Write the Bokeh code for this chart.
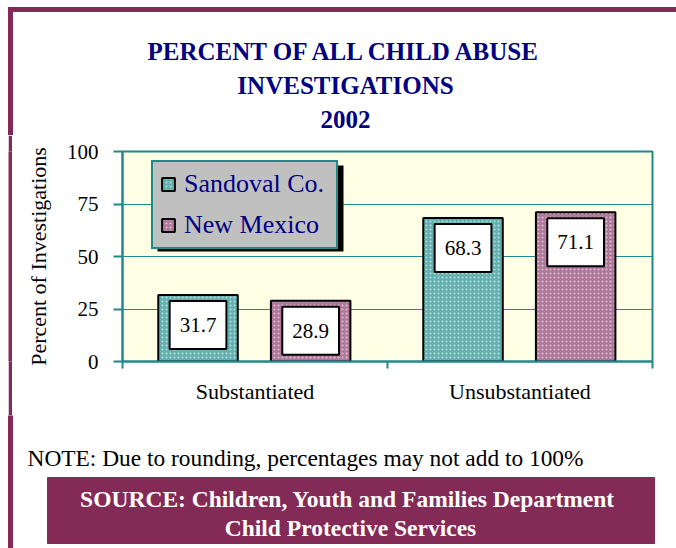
from bokeh.plotting import figure
from bokeh.layouts import column, row
from bokeh.models import (Range1d, FixedTicker, Legend, LegendItem, Label, BoxAnnotation,
                          ColumnDataSource, Spacer)
from bokeh.transform import dodge
from bokeh.embed import file_html
from bokeh.resources import INLINE

# ---- data ----
categories = ["Substantiated", "Unsubstantiated"]
sandoval = [31.7, 68.3]
new_mexico = [28.9, 71.1]
series_names = ["Sandoval Co.", "New Mexico"]
y_ticks = [0, 25, 50, 75, 100]
title_lines = ["PERCENT OF ALL CHILD ABUSE", "INVESTIGATIONS", "2002"]
note_text = "NOTE: Due to rounding, percentages may not add to 100%"
source_lines = ["SOURCE:  Children, Youth and Families Department", "Child Protective Services"]

# ---- styles ----
SERIF = "Liberation Serif"
TEAL = "#1F8A8A"
MAROON = "#842A56"
NAVY = "#000080"
FILLS = ["#62B1B1", "#B0779A"]
OFFSETS = [-0.215, 0.21]
BAR_W = 0.30

W = 676
HEAD_H, MAIN_H, FOOT_H = 135, 280, 133
GAP_W, STRIP_W = 8, 4


def blank(w, h, fill="white"):
    """A figure whose frame fills the whole canvas, in pixel-like coordinates (y down)."""
    f = figure(width=w, height=h, x_range=Range1d(0, w), y_range=Range1d(h, 0),
               min_border=0, min_border_left=0, min_border_right=0,
               min_border_top=0, min_border_bottom=0,
               toolbar_location=None, output_backend="svg",
               x_axis_location=None, y_axis_location=None)
    f.outline_line_color = None
    f.grid.visible = False
    f.background_fill_color = fill
    f.border_fill_color = fill
    return f


# ---- header ----
head = blank(W, HEAD_H)
head.quad(left=8, right=W, top=7, bottom=11, color=MAROON)
head.quad(left=8, right=12, top=7, bottom=HEAD_H, color=MAROON)
for k, t in enumerate(title_lines):
    head.add_layout(Label(x=345, y=51 + 34 * k, text=t, text_align="center",
                          text_baseline="alphabetic", text_font=SERIF, text_font_size="25px",
                          text_font_style="bold", text_color=NAVY))

# ---- left border strip next to the chart ----
strip = blank(STRIP_W, MAIN_H, fill=MAROON)

# ---- main chart ----
n = len(categories)
centers = [i + 0.5 for i in range(n)]
src = ColumnDataSource(dict(xc=centers, s0=sandoval, s1=new_mexico))

p = figure(x_range=Range1d(0, n), y_range=Range1d(0, 100),
           width=W - GAP_W - STRIP_W, height=MAIN_H, output_backend="svg", toolbar_location=None,
           min_border_left=110, min_border_right=24, min_border_top=16, min_border_bottom=54)
p.background_fill_color = "#FFFFE6"
p.border_fill_color = "white"
p.outline_line_color = TEAL
p.outline_line_width = 2

ya = p.yaxis[0]
ya.ticker = FixedTicker(ticks=y_ticks)
ya.axis_line_color = TEAL
ya.axis_line_width = 2
ya.major_tick_line_color = TEAL
ya.major_tick_line_width = 2
ya.major_tick_out = 9
ya.major_tick_in = 0
ya.minor_tick_line_color = None
ya.major_label_text_font = SERIF
ya.major_label_text_font_size = "21px"
ya.major_label_text_color = "black"
ya.major_label_standoff = 15
ya.axis_label = "Percent of Investigations"
ya.axis_label_text_font = SERIF
ya.axis_label_text_font_size = "22px"
ya.axis_label_text_font_style = "normal"
ya.axis_label_text_color = "black"
ya.axis_label_standoff = 13

xa = p.xaxis[0]
xa.ticker = FixedTicker(ticks=centers, minor_ticks=list(range(n + 1)))
xa.major_label_overrides = {c: cat for c, cat in zip(centers, categories)}
xa.axis_line_color = TEAL
xa.axis_line_width = 2
xa.major_tick_line_color = None
xa.major_tick_out = 0
xa.major_tick_in = 0
xa.minor_tick_line_color = TEAL
xa.minor_tick_line_width = 2
xa.minor_tick_out = 7
xa.minor_tick_in = 0
xa.major_label_text_font = SERIF
xa.major_label_text_font_size = "22px"
xa.major_label_text_color = "black"
xa.major_label_standoff = 10

p.xgrid.visible = False
p.ygrid.ticker = FixedTicker(ticks=y_ticks)
p.ygrid.grid_line_color = TEAL
p.ygrid.grid_line_width = 1

renderers = []
for i, col in enumerate(["s0", "s1"]):
    r = p.vbar(x=dodge("xc", OFFSETS[i]), top=col, width=BAR_W, source=src,
               fill_color=FILLS[i], line_color="black", line_width=2,
               hatch_pattern="dot", hatch_color="white", hatch_alpha=0.55,
               hatch_scale=4, hatch_weight=1)
    renderers.append(r)

for i, vals in enumerate([sandoval, new_mexico]):
    for j, v in enumerate(vals):
        p.add_layout(Label(x=centers[j] + OFFSETS[i], y=v, y_offset=-30, text=f"{v:.1f}",
                           text_align="center", text_baseline="middle",
                           text_font=SERIF, text_font_size="21px", text_color="black",
                           background_fill_color="white", border_line_color="black",
                           border_line_width=2,
                           padding=dict(left=10, right=10, top=17, bottom=17)))

p.add_layout(BoxAnnotation(left=35, right=221, top=196, bottom=110,
                           left_units="screen", right_units="screen",
                           top_units="screen", bottom_units="screen",
                           fill_color="black", fill_alpha=1, line_color=None))
legend = Legend(items=[LegendItem(label=series_names[k], renderers=[renderers[k]]) for k in range(2)],
                location=(29, 112), background_fill_color="#C0C0C0", background_fill_alpha=1,
                border_line_color=TEAL, border_line_width=2, border_line_alpha=1,
                label_text_font=SERIF, label_text_font_size="26px", label_text_color=NAVY,
                glyph_width=16, glyph_height=16, label_standoff=8, label_width=145,
                padding=7, spacing=11, margin=0)
p.add_layout(legend)

# ---- footer ----
foot = blank(W, FOOT_H)
foot.quad(left=8, right=12, top=0, bottom=FOOT_H, color=MAROON)
foot.add_layout(Label(x=27, y=42, text=note_text, text_align="left", text_baseline="alphabetic",
                      text_font=SERIF, text_font_size="23.4px", text_color="black"))
foot.quad(left=47, right=654, top=62, bottom=128, color=MAROON)
for k, t in enumerate(source_lines):
    foot.add_layout(Label(x=350, y=83 + 29 * k, text=t, text_align="center",
                          text_baseline="alphabetic", text_font=SERIF, text_font_size="23.5px",
                          text_font_style="bold", text_color="white"))

layout = column(head, row(Spacer(width=GAP_W, height=MAIN_H), strip, p), foot)
open("out.html", "w").write(file_html(layout, INLINE))
